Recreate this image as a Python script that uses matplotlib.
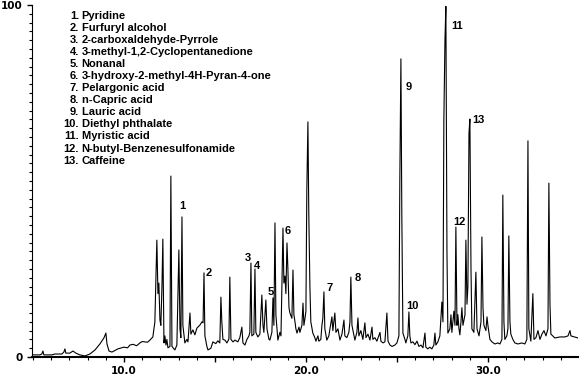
import matplotlib
matplotlib.use("Agg")
from matplotlib import pyplot as plt
from matplotlib.ticker import MultipleLocator, FixedLocator

# Chromatogramme : temps de rétention (min) et abondance relative (%)
rt = [4.95, 5.38, 5.49, 5.55, 5.60, 6.04, 6.21, 6.59, 6.70, 6.76, 6.81, 7.03, 7.20, 7.36,
      7.58, 7.86, 8.13, 8.41, 8.68, 8.90, 9.01, 9.07, 9.18, 9.34, 9.67, 10.0, 10.2, 10.33,
      10.5, 10.6, 10.7, 10.88, 11.0, 11.15, 11.3, 11.43, 11.59,
      11.70, 11.81, 11.87, 11.92, 11.98, 12.03, 12.09, 12.14, 12.20, 12.25, 12.31, 12.36,
      12.42, 12.53, 12.58, 12.64, 12.75, 12.80, 12.91, 13.02, 13.08, 13.13, 13.19, 13.24,
      13.35, 13.46, 13.52, 13.63, 13.68, 13.79, 13.90, 14.01, 14.18, 14.29, 14.35, 14.40,
      14.45, 14.56, 14.62, 14.78, 14.89, 15.05, 15.16, 15.27, 15.33, 15.38, 15.44, 15.55,
      15.66, 15.77, 15.82, 15.88, 15.99, 16.10, 16.26, 16.37, 16.48, 16.54, 16.65, 16.76,
      16.87, 16.92, 16.98, 17.03, 17.14, 17.20, 17.25, 17.36, 17.47, 17.58, 17.64, 17.69,
      17.80, 17.86, 17.97, 18.02, 18.13, 18.19, 18.24, 18.30, 18.35, 18.41, 18.46, 18.57,
      18.63, 18.74, 18.79, 18.85, 18.90, 18.96, 19.01, 19.07, 19.12, 19.23, 19.29, 19.34,
      19.40, 19.45, 19.51, 19.62, 19.67, 19.78, 19.84, 19.89, 19.95, 20.00, 20.05, 20.11,
      20.16, 20.22, 20.27, 20.38, 20.49, 20.55, 20.66, 20.71, 20.82, 20.88, 20.93, 20.99,
      21.04, 21.15, 21.26, 21.32, 21.43, 21.48, 21.59, 21.65, 21.76, 21.87, 21.98, 22.09,
      22.14, 22.25, 22.36, 22.42, 22.47, 22.53, 22.64, 22.69, 22.80, 22.86, 22.91, 23.02,
      23.13, 23.24, 23.30, 23.41, 23.52, 23.63, 23.68, 23.79, 23.90, 24.07, 24.12, 24.23,
      24.34, 24.45, 24.51, 24.62, 24.73, 24.89, 25.00, 25.11, 25.16, 25.22, 25.27, 25.33,
      25.44, 25.49, 25.60, 25.66, 25.71, 25.77, 25.88, 25.99, 26.10, 26.21, 26.32, 26.43,
      26.54, 26.59, 26.70, 26.81, 26.92, 27.03, 27.09, 27.14, 27.25, 27.36, 27.47, 27.53,
      27.58, 27.64, 27.69, 27.75, 27.80, 27.91, 27.97, 28.02, 28.13, 28.19, 28.24, 28.30,
      28.35, 28.41, 28.46, 28.52, 28.57, 28.63, 28.74, 28.79, 28.85, 28.90, 28.96, 29.01,
      29.07, 29.12, 29.23, 29.34, 29.40, 29.51, 29.62, 29.67, 29.73, 29.78, 29.89, 29.95,
      30.00, 30.11, 30.22, 30.38, 30.55, 30.66, 30.77, 30.82, 30.88, 30.93, 31.04, 31.10,
      31.15, 31.21, 31.26, 31.37, 31.48, 31.65, 31.87, 32.03, 32.14, 32.20, 32.25, 32.36,
      32.47, 32.53, 32.64, 32.75, 32.86, 32.97, 33.08, 33.19, 33.30, 33.35, 33.41, 33.46,
      33.68, 33.96, 34.23, 34.40, 34.51, 34.56, 34.95]
abund = [0.6, 0.6, 0.85, 1.7, 0.6, 0.6, 0.85, 0.85, 1.4, 2.3, 1.1, 1.1, 1.7, 1.1,
         0.6, 0.3, 0.85, 2.0, 3.7, 5.4, 6.8, 3.7, 1.7, 1.4, 2.3, 2.8, 2.6, 3.4,
         3.6, 3.4, 3.2, 4.0, 4.4, 4.3, 4.2, 4.8, 5.7,
         9.9, 33.2, 18.0, 21.0, 10.5, 9.0, 20.0, 33.5, 4.0, 6.0, 3.4, 5.0,
         2.6, 3.0, 51.4, 3.0, 2.3, 2.0, 3.4, 30.4, 8.0, 5.5, 39.8, 9.0,
         4.0, 5.0, 4.3, 12.5, 6.5, 7.7, 6.3, 8.2, 9.1, 10.0, 9.7, 23.9,
         6.0, 3.0, 2.0, 2.5, 4.3, 3.8, 4.6, 4.0, 17.0, 10.0, 5.0, 4.8,
         4.0, 5.1, 22.7, 5.0, 4.3, 4.8, 4.3, 5.5, 8.5, 4.0, 3.4, 5.0,
         6.0, 7.0, 26.7, 6.0, 6.5, 25.0, 7.0, 5.7, 6.5, 17.6, 9.0, 7.0,
         16.2, 8.0, 5.0, 4.8, 7.0, 16.8, 9.0, 38.1, 12.0, 8.0, 4.8, 7.0,
         6.0, 36.6, 21.0, 23.0, 18.0, 32.4, 25.0, 14.0, 12.5, 11.0, 24.7, 12.0,
         10.0, 8.0, 6.8, 8.5, 7.0, 9.0, 15.3, 9.0, 11.0, 13.0, 47.4, 66.8,
         40.0, 20.0, 10.0, 6.8, 5.5, 4.5, 6.0, 4.5, 5.0, 9.0, 11.0, 18.5,
         8.0, 4.8, 6.0, 8.0, 11.4, 7.5, 12.5, 7.0, 8.0, 4.8, 6.5, 10.5,
         6.0, 5.5, 7.0, 10.0, 22.7, 9.0, 6.0, 4.8, 7.0, 11.1, 6.0, 7.5,
         5.0, 9.7, 5.5, 6.5, 4.8, 8.5, 5.0, 5.5, 4.5, 7.0, 4.5, 4.0,
         4.3, 12.5, 4.5, 3.4, 3.0, 3.4, 4.0, 6.0, 50.0, 84.7, 40.0, 6.8,
         5.0, 4.0, 6.0, 12.8, 6.0, 4.0, 4.3, 3.5, 4.5, 3.0, 3.4, 2.6,
         6.8, 2.8, 2.3, 2.8, 2.3, 3.4, 6.8, 3.4, 4.3, 6.0, 15.6, 10.0,
         67.3, 90.1, 99.6, 30.0, 6.8, 8.0, 12.0, 7.0, 13.0, 9.0, 36.9, 9.0,
         12.0, 8.0, 6.3, 10.0, 14.0, 9.0, 12.0, 33.2, 15.0, 20.0, 63.6, 67.6,
         25.0, 8.0, 7.0, 24.1, 8.0, 6.0, 10.0, 34.1, 14.0, 9.0, 7.5, 11.4,
         9.0, 5.0, 4.3, 3.7, 4.0, 3.7, 5.0, 46.0, 10.0, 5.0, 6.0, 8.0,
         34.4, 10.0, 6.5, 5.0, 4.0, 3.7, 4.0, 3.7, 5.0, 61.4, 8.0, 4.5,
         18.0, 5.0, 5.5, 7.5, 5.0, 6.5, 7.5, 6.0, 8.0, 49.4, 15.0, 6.5,
         5.4, 5.7, 5.7, 6.0, 7.5, 6.0, 5.4]

# Pics identifiés
pic_num = ["1", "2", "3", "4", "5", "6", "7", "8", "9", "10", "11", "12", "13"]
pic_rt = [13.19, 14.67, 16.81, 17.31, 18.08, 19.01, 21.32, 22.86, 25.66, 25.88, 28.30, 28.41, 29.45]
pic_y = [42.9, 23.9, 28.1, 25.9, 18.5, 35.8, 19.6, 22.4, 76.7, 14.5, 94.0, 38.4, 67.3]

noms = ["Pyridine", "Furfuryl alcohol", "2-carboxaldehyde-Pyrrole",
        "3-methyl-1,2-Cyclopentanedione", "Nonanal",
        "3-hydroxy-2-methyl-4H-Pyran-4-one", "Pelargonic acid", "n-Capric acid",
        "Lauric acid", "Diethyl phthalate", "Myristic acid",
        "N-butyl-Benzenesulfonamide", "Caffeine"]

W, H = 581, 380
police = ["Liberation Sans Narrow", "Liberation Sans", "DejaVu Sans"]

fig = plt.figure(figsize=(W / 100, H / 100), dpi=100)
ax = fig.add_axes([32 / W, 23 / H, 546 / W, 352 / H])
ax.plot(rt, abund, color="black", lw=0.8)
ax.set_xlim(4.95, 34.95)
ax.set_ylim(0, 100)

ax.spines["top"].set_visible(False)
ax.spines["right"].set_visible(False)
ax.spines["bottom"].set_linewidth(1.5)
ax.spines["left"].set_linewidth(0.8)

ax.xaxis.set_major_locator(FixedLocator([10, 15, 20, 25, 30]))
ax.xaxis.set_minor_locator(MultipleLocator(1))
ax.set_xticklabels(["10.0", "", "20.0", "", "30.0"])
ax.yaxis.set_major_locator(FixedLocator([0, 100]))
ax.yaxis.set_minor_locator(MultipleLocator(2.5))
ax.set_yticklabels(["0", "100"])
ax.tick_params(axis="both", which="major", length=3.5, width=1, pad=3)
ax.tick_params(axis="both", which="minor", length=2, width=0.8)
for lab in ax.get_xticklabels() + ax.get_yticklabels():
    lab.set_fontweight("bold")
    lab.set_fontsize(7.5)

# Numéros des pics
for n, t, y in zip(pic_num, pic_rt, pic_y):
    ax.text(t, y, n, ha="center", va="center", fontsize=8, fontweight="bold",
            family=["Liberation Sans", "DejaVu Sans"])

# Légende des composés
for i, nom in enumerate(noms):
    yl = 1 - (15.7 + i * 12.08) / H
    fig.text(79 / W, yl, f"{i + 1}.", ha="right", va="center", fontsize=8,
             fontweight="bold", family=police)
    fig.text(81.5 / W, yl, nom, ha="left", va="center", fontsize=8,
             fontweight="bold", family=police)

fig.savefig("out.png", dpi=100)
